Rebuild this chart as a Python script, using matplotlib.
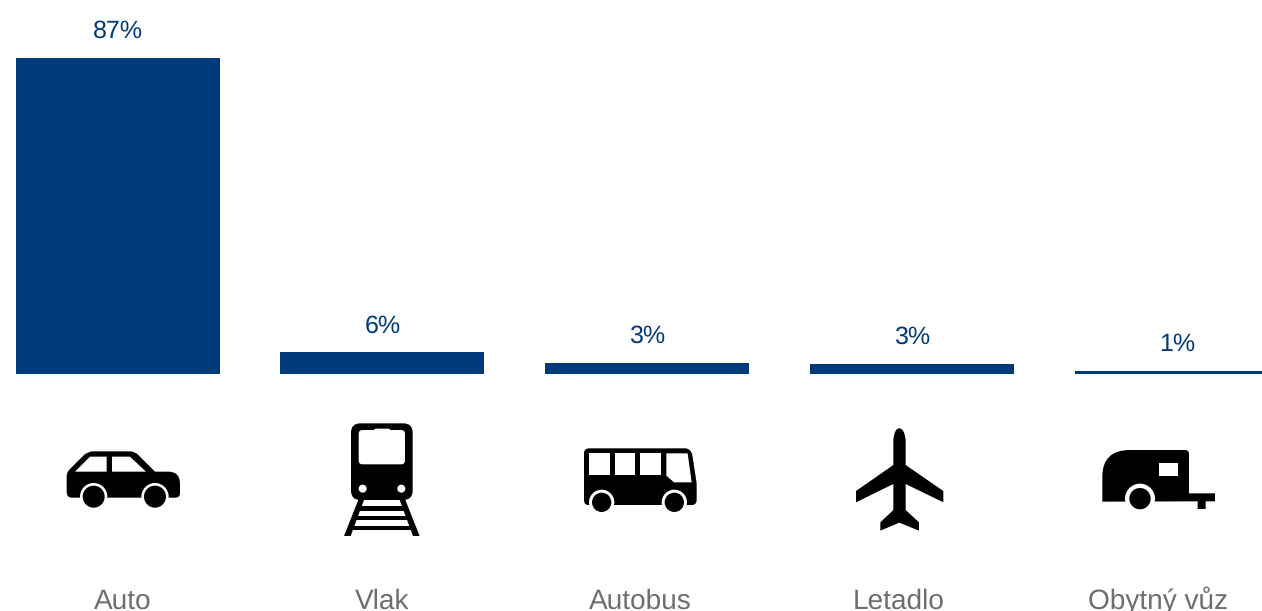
import matplotlib
matplotlib.use("Agg")
import matplotlib.pyplot as plt
from matplotlib.patches import Circle, FancyBboxPatch, Polygon, PathPatch
from matplotlib.path import Path

plt.rcParams['font.family'] = ['Liberation Sans', 'DejaVu Sans']
plt.rcParams['text.hinting'] = 'no_hinting'
plt.rcParams['text.hinting_factor'] = 1

categories = ['Auto', 'Vlak', 'Autobus', 'Letadlo', 'Obytný vůz']
values = [87, 6, 3, 2.8, 0.8]
value_labels = ['87%', '6%', '3%', '3%', '1%']

BLUE = '#003A78'
GREY = '#6E6E6E'

W, H = 1262, 611
fig = plt.figure(figsize=(W / 100, H / 100), dpi=100)

# Bars: one category step is 264.75 px, one percent is 3.632 px
ax = fig.add_axes([0, 0, 1, 1])
ax.set_xlim(-117.7 / 264.75, (W - 117.7) / 264.75)
ax.set_ylim(-(H - 374) / 3.632, 374 / 3.632)
ax.axis('off')
bars = ax.bar(range(len(values)), values, width=0.7705, color=BLUE)

for bar, label in zip(bars, value_labels):
    ax.annotate(label, (bar.get_x() + bar.get_width() / 2, bar.get_height()),
                xytext=(0, 19), textcoords='offset points',
                ha='center', va='center', fontsize=17.8, color=BLUE)

# Overlay in pixel coordinates for icons and category names
ov = fig.add_axes([0, 0, 1, 1])
ov.set_xlim(0, W)
ov.set_ylim(H, 0)
ov.axis('off')
ov.patch.set_alpha(0)

label_x = [123, 382, 640, 899, 1158]
for x, name in zip(label_x, categories):
    ov.text(x, 609, name, ha='center', va='baseline', fontsize=19.8, color=GREY, clip_on=False)


def poly(pts, ox, oy, color='black'):
    ov.add_patch(Polygon([(ox + x / 3, oy + y / 3) for x, y in pts], closed=True,
                         facecolor=color, edgecolor='none'))


def circle(x, y, r, ox, oy, color='black'):
    ov.add_patch(Circle((ox + x / 3, oy + y / 3), r / 3, facecolor=color, edgecolor='none'))


def curve(verts, codes, ox, oy, color='black'):
    pts = [(ox + x / 3, oy + y / 3) for x, y in verts]
    ov.add_patch(PathPatch(Path(pts, codes), facecolor=color, edgecolor='none'))


def wheel(x, y, outer, inner, ox, oy):
    circle(x, y, outer, ox, oy, 'white')
    circle(x, y, inner, ox, oy)


def rrect(x0, y0, x1, y1, r, ox, oy, color='black'):
    ov.add_patch(FancyBboxPatch((ox + (x0 + r) / 3, oy + (y0 + r) / 3),
                                (x1 - x0 - 2 * r) / 3, (y1 - y0 - 2 * r) / 3,
                                boxstyle=f'round,pad={r / 3},rounding_size={r / 3}',
                                facecolor=color, edgecolor='none'))


M, L, C, Z = Path.MOVETO, Path.LINETO, Path.CURVE3, Path.CLOSEPOLY


def draw_car(ox=40, oy=410):
    verts = [(80, 200), (80, 185), (92, 175), (132, 135), (145, 124), (160, 124),
             (270, 124), (285, 124), (295, 135), (345, 185), (385, 185), (420, 185),
             (420, 222), (420, 250), (420, 263), (405, 263), (95, 263), (80, 263),
             (80, 245), (80, 200)]
    codes = [M, C, C, L, C, C, L, C, C, L, L, C, C, L, C, C, L, C, C, Z]
    curve(verts, codes, ox, oy)
    poly([(105, 185), (150, 140), (200, 140), (200, 185)], ox, oy, 'white')
    poly([(216, 140), (270, 140), (318, 185), (216, 185)], ox, oy, 'white')
    wheel(161, 260, 41, 33, ox, oy)
    wheel(345, 260, 41, 33, ox, oy)


def draw_train(ox=40, oy=410):
    poly([(958, 262), (975, 262), (932, 378), (912, 378)], ox, oy)
    poly([(1076, 262), (1093, 262), (1139, 378), (1119, 378)], ox, oy)
    for y0, x0, x1 in [(288, 960, 1092), (317, 948, 1104), (347, 936, 1116)]:
        poly([(x0, y0), (x1, y0), (x1, y0 + 14), (x0, y0 + 14)], ox, oy)
    rrect(933, 40, 1118, 270, 28, ox, oy)
    rrect(956, 60, 1095, 163, 12, ox, oy, 'white')
    poly([(1000, 62), (1006, 56), (1048, 56), (1052, 62)], ox, oy, 'white')
    circle(968, 236, 12, ox, oy, 'white')
    circle(1084, 236, 12, ox, oy, 'white')


def draw_bus(ox=560, oy=410):
    verts = [(72, 130), (72, 115), (88, 115), (375, 115), (392, 115), (397, 135),
             (410, 220), (410, 270), (410, 285), (395, 285), (85, 285), (72, 285),
             (72, 270), (72, 130)]
    codes = [M, C, C, L, C, C, L, L, C, C, L, C, C, Z]
    curve(verts, codes, ox, oy)
    for x0, x1 in [(88, 150), (165, 226), (241, 303)]:
        poly([(x0, 130), (x1, 130), (x1, 194), (x0, 194)], ox, oy, 'white')
    poly([(319, 130), (383, 130), (395, 217), (342, 217), (319, 197)], ox, oy, 'white')
    wheel(125, 277, 38, 29, ox, oy)
    wheel(343, 277, 38, 29, ox, oy)


def draw_plane(ox=560, oy=410):
    verts = [(1000, 90), (1003, 55), (1018, 55), (1033, 55), (1037, 90), (1037, 165),
             (1150, 243), (1150, 277), (1037, 222), (1037, 300), (1077, 337), (1077, 362),
             (1018, 338), (961, 362), (961, 337), (1000, 300), (1000, 222), (888, 277),
             (888, 243), (1000, 165), (1000, 90)]
    codes = [M, C, C, C, C, L, L, L, L, L, L, L, L, L, L, L, L, L, L, L, Z]
    curve(verts, codes, ox, oy)


def draw_caravan(ox=1040, oy=320):
    verts = [(187, 545), (187, 470), (187, 390), (270, 390), (435, 390), (447, 390),
             (447, 402), (447, 520), (525, 520), (525, 544), (497, 544), (497, 567),
             (473, 567), (473, 544), (187, 545)]
    codes = [M, L, C, C, L, C, C, L, L, L, L, L, L, L, Z]
    curve(verts, codes, ox, oy)
    poly([(356, 428), (413, 428), (413, 467), (356, 467)], ox, oy, 'white')
    wheel(300, 536, 45, 32, ox, oy)


draw_car()
draw_train()
draw_bus()
draw_plane()
draw_caravan()

fig.savefig('out.png', dpi=100, facecolor='white')
plt.close(fig)
